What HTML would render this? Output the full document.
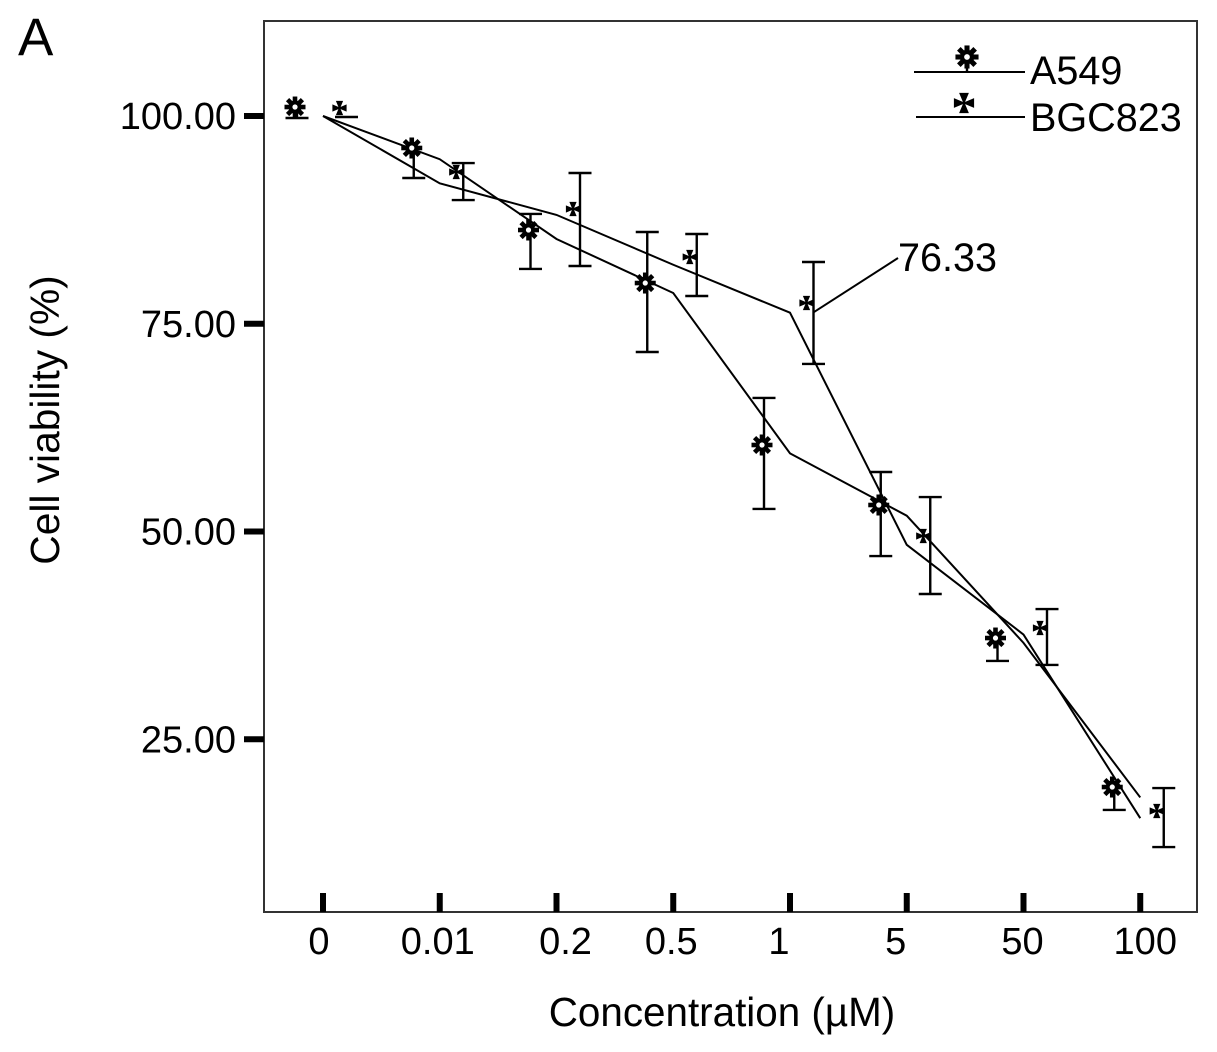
<!DOCTYPE html>
<html lang="en">
<head>
<meta charset="utf-8">
<title>Cell viability chart</title>
<style>
html,body{margin:0;padding:0;background:#fff;width:1217px;height:1052px;overflow:hidden}
svg{display:block}
text{font-family:"Liberation Sans",sans-serif;fill:#000}
</style>
</head>
<body>
<svg id="chart" xmlns="http://www.w3.org/2000/svg" width="1217" height="1052" viewBox="0 0 1217 1052">
  <rect x="0" y="0" width="1217" height="1052" fill="#fff"/>
  <text x="18" y="55" font-size="53">A</text>
  <rect x="264" y="21" width="933" height="891" fill="none" stroke="#333" stroke-width="2"/>
  <g id="y-axis"></g>
  <g id="x-axis"></g>
  <g id="series-a549"></g>
  <g id="series-bgc823"></g>
  <text transform="translate(59 420) rotate(-90)" text-anchor="middle" font-size="40.7">Cell viability (%)</text>
  <text x="722" y="1026" text-anchor="middle" font-size="40.4">Concentration (µM)</text>
  <g id="annotation"></g>
  <g id="legend"></g>
</svg>
<script>
const categories = ["0", "0.01", "0.2", "0.5", "1", "5", "50", "100"];
const yTicks = [100, 75, 50, 25];
const annotationValue = 76.33;

const a549Line = [100, 94.8, 85.2, 78.7, 59.4, 51.9, 36.6, 18.0];
const a549Points = [101.08, 96.15, 86.28, 79.90, 60.41, 53.19, 37.18, 19.25];
const a549Upper = [null, null, 88.21, 86.04, 66.07, 57.16, null, null];
const a549Lower = [99.76, 92.54, 81.59, 71.60, 52.71, 47.05, 34.42, 16.49];

const bgcLine = [100, 91.9, 88.1, 82.1, 76.33, 48.4, 37.6, 15.5];
const bgcPoints = [100.96, 93.26, 88.81, 83.03, 77.50, 49.46, 38.39, 16.37];
const bgcUpper = [null, 94.34, 93.14, 85.80, 82.43, 54.15, 40.67, 19.13];
const bgcLower = [99.88, 89.89, 81.95, 78.34, 70.16, 42.48, 33.94, 12.03];

const xLabelNudge = [-4, -2, 9, -2, -11, -11, -1, 5];

const NS = "http://www.w3.org/2000/svg";
const xScale = function (i) { return 323 + i * 116.75; };
const yScale = function (v) { return 116 + (100 - v) * 8.31; };

function make(tag, parent) {
  const el = document.createElementNS(NS, tag);
  parent.appendChild(el);
  return el;
}

function drawLine(parent, x1, y1, x2, y2, width, name) {
  const el = make("line", parent);
  el.setAttribute("x1", x1);
  el.setAttribute("y1", y1);
  el.setAttribute("x2", x2);
  el.setAttribute("y2", y2);
  el.setAttribute("stroke", "#000");
  el.setAttribute("stroke-width", width);
  
  
  return el;
}

function drawText(parent, x, y, size, anchor, content, name) {
  const el = make("text", parent);
  el.setAttribute("x", x);
  el.setAttribute("y", y);
  el.setAttribute("font-size", size);
  el.setAttribute("text-anchor", anchor);
  el.textContent = content;
  
  
  return el;
}

function flowerMarker(parent, cx, cy, name, s) {
  const scale = s || 1;
  const g = make("g", parent);
  
  
  for (let k = 0; k < 8; k++) {
    const a = k * Math.PI / 4;
    const spoke = make("line", g);
    spoke.setAttribute("x1", cx + 4 * scale * Math.cos(a));
    spoke.setAttribute("y1", cy + 4 * scale * Math.sin(a));
    spoke.setAttribute("x2", cx + 10.5 * scale * Math.cos(a));
    spoke.setAttribute("y2", cy + 10.5 * scale * Math.sin(a));
    spoke.setAttribute("stroke", "#000");
    spoke.setAttribute("stroke-width", 4.6 * scale);
    
    
  }
  const ring = make("circle", g);
  ring.setAttribute("cx", cx);
  ring.setAttribute("cy", cy);
  ring.setAttribute("r", 4.6 * scale);
  ring.setAttribute("fill", "#fff");
  ring.setAttribute("stroke", "#000");
  ring.setAttribute("stroke-width", 4 * scale);
  
  
}

function crossMarker(parent, cx, cy, r, name) {
  const el = make("path", parent);
  const w = r * 0.42;
  const d = "M" + cx + " " + cy + "L" + (cx - w) + " " + (cy - r) + "L" + (cx + w) + " " + (cy - r) + "Z" +
            "M" + cx + " " + cy + "L" + (cx - w) + " " + (cy + r) + "L" + (cx + w) + " " + (cy + r) + "Z" +
            "M" + cx + " " + cy + "L" + (cx - r) + " " + (cy - w) + "L" + (cx - r) + " " + (cy + w) + "Z" +
            "M" + cx + " " + cy + "L" + (cx + r) + " " + (cy - w) + "L" + (cx + r) + " " + (cy + w) + "Z";
  el.setAttribute("d", d);
  el.setAttribute("fill", "#000");
  el.setAttribute("stroke", "#000");
  el.setAttribute("stroke-width", "1.2");
  
  
}

function drawSeries(parent, key, lineVals, points, upper, lower, markerDx, barDx, marker) {
  const path = make("polyline", parent);
  path.setAttribute("points", lineVals.map(function (v, i) { return xScale(i) + "," + yScale(v); }).join(" "));
  path.setAttribute("fill", "none");
  path.setAttribute("stroke", "#000");
  path.setAttribute("stroke-width", "2");
  
  

  points.forEach(function (v, i) {
    const bx = xScale(i) + barDx;
    const mx = xScale(i) + markerDx;
    const yTop = upper[i] === null ? yScale(v) : yScale(upper[i]);
    const yBot = lower[i] === null ? yScale(v) : yScale(lower[i]);
    if (!(key === "bgc823" && upper[i] === null)) {
      drawLine(parent, bx, yTop, bx, yBot, 2.4, key + "-error-bar-" + categories[i]);
    }
    if (upper[i] !== null) {
      drawLine(parent, bx - 11.5, yTop, bx + 11.5, yTop, 2.4, key + "-error-cap-upper-" + categories[i]);
    }
    if (lower[i] !== null) {
      drawLine(parent, bx - 11.5, yBot, bx + 11.5, yBot, 2.4, key + "-error-cap-lower-" + categories[i]);
    }
    marker(parent, mx, yScale(v), key + "-marker-" + categories[i]);
  });
}

const yAxisG = document.getElementById("y-axis");
yTicks.forEach(function (t) {
  const y = yScale(t);
  drawLine(yAxisG, 244, y, 264, y, 6, "y-tick-" + t);
  drawText(yAxisG, 236, y + 13, 38, "end", t.toFixed(2), "y-tick-label-" + t);
});

const xAxisG = document.getElementById("x-axis");
categories.forEach(function (c, i) {
  const x = xScale(i);
  drawLine(xAxisG, x, 893, x, 912, 6, "x-tick-" + c);
  drawText(xAxisG, x + xLabelNudge[i], 954, 38, "middle", c, "x-tick-label-" + c);
});

drawSeries(document.getElementById("series-a549"), "a549", a549Line, a549Points, a549Upper, a549Lower, -28, -26, function (p, x, y, n) { flowerMarker(p, x, y, n, 1); });
drawSeries(document.getElementById("series-bgc823"), "bgc823", bgcLine, bgcPoints, bgcUpper, bgcLower, 16.5, 23.5, function (p, x, y, n) { crossMarker(p, x, y, 6.5, n); });

const annG = document.getElementById("annotation");
drawLine(annG, 813, yScale(annotationValue), 898, 258, 2, "annotation-leader");
drawText(annG, 898, 271, 39.6, "start", annotationValue.toFixed(2), "annotation-value");

const legendG = document.getElementById("legend");
drawLine(legendG, 914, 72, 1025, 72, 2, "legend-line-a549");
drawLine(legendG, 967, 57, 967, 72, 2.4, "legend-stem-a549");
flowerMarker(legendG, 967, 57, "legend-marker-a549", 1.1);
drawText(legendG, 1030, 84, 39.6, "start", "A549", "legend-label-a549");
drawLine(legendG, 916, 117, 1025, 117, 2, "legend-line-bgc823");
crossMarker(legendG, 964, 103, 9.5, "legend-marker-bgc823");
drawText(legendG, 1030, 131, 39.6, "start", "BGC823", "legend-label-bgc823");
</script>
</body>
</html>
